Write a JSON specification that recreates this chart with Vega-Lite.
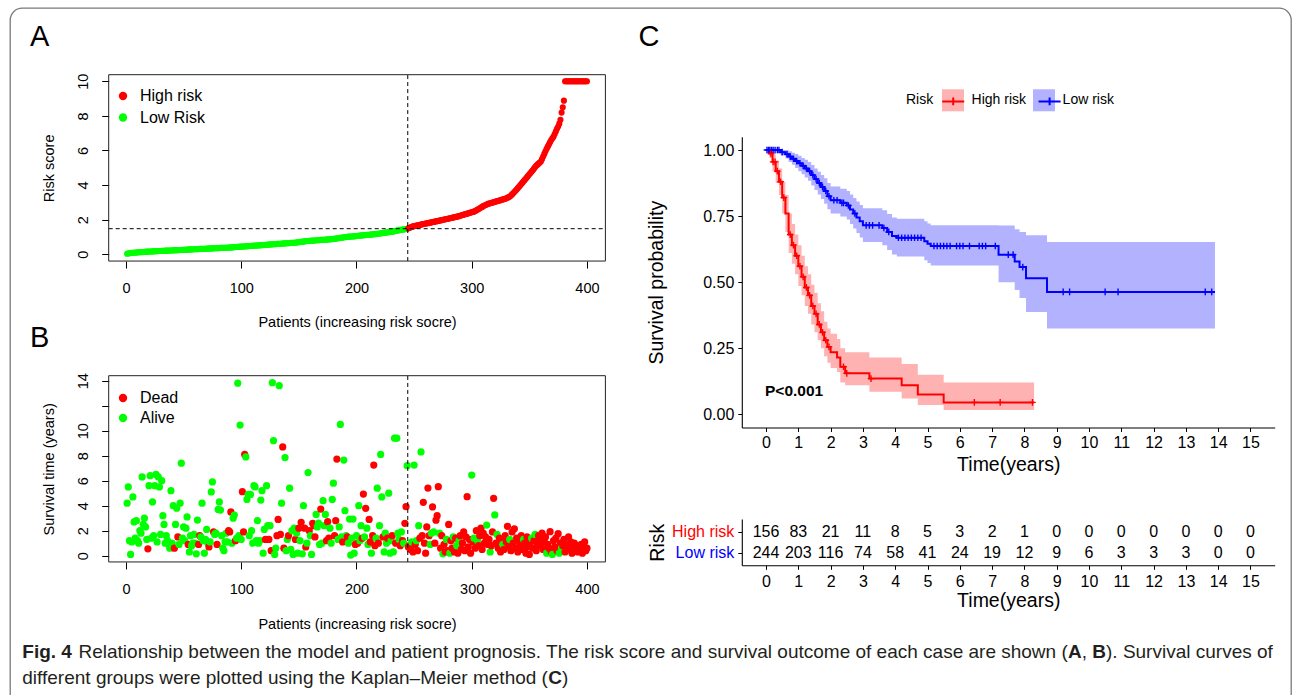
{
"$schema":"https://vega.github.io/schema/vega-lite/v6.json",
"width":1281,"height":700,
"autosize":{"type":"none"},
"padding":{"left":10,"top":8,"right":2,"bottom":0},
"background":"white",
"view":{"stroke":"#7a7a7a","strokeWidth":1.3,"cornerRadius":12,"fill":"white"},
"datasets":{
"pts":[
{"i":1,"r":0.03,"t":4.2,"s":"A","g":"L"},{"i":2,"r":0.05,"t":5.5,"s":"A","g":"L"},{"i":3,"r":0.06,"t":1.2,"s":"A","g":"L"},{"i":4,"r":0.07,"t":0.1,"s":"A","g":"L"},{"i":5,"r":0.08,"t":1.1,"s":"A","g":"L"},{"i":6,"r":0.09,"t":4.7,"s":"A","g":"L"},{"i":7,"r":0.09,"t":2.7,"s":"A","g":"L"},{"i":8,"r":0.10,"t":1.4,"s":"A","g":"L"},{"i":9,"r":0.10,"t":2.8,"s":"A","g":"L"},{"i":10,"r":0.11,"t":1.2,"s":"A","g":"L"},
{"i":11,"r":0.11,"t":1.0,"s":"A","g":"L"},{"i":12,"r":0.12,"t":2.0,"s":"A","g":"L"},{"i":13,"r":0.12,"t":1.8,"s":"A","g":"L"},{"i":14,"r":0.13,"t":6.3,"s":"A","g":"L"},{"i":15,"r":0.13,"t":2.5,"s":"A","g":"L"},{"i":16,"r":0.14,"t":3.0,"s":"A","g":"L"},{"i":17,"r":0.14,"t":2.3,"s":"A","g":"L"},{"i":18,"r":0.15,"t":1.3,"s":"A","g":"L"},{"i":19,"r":0.15,"t":0.55,"s":"D","g":"L"},{"i":20,"r":0.16,"t":5.6,"s":"A","g":"L"},
{"i":21,"r":0.16,"t":6.4,"s":"A","g":"L"},{"i":22,"r":0.16,"t":1.4,"s":"A","g":"L"},{"i":23,"r":0.17,"t":4.3,"s":"A","g":"L"},{"i":24,"r":0.17,"t":1.6,"s":"A","g":"L"},{"i":25,"r":0.18,"t":5.6,"s":"A","g":"L"},{"i":26,"r":0.18,"t":6.5,"s":"A","g":"L"},{"i":27,"r":0.18,"t":1.1,"s":"A","g":"L"},{"i":28,"r":0.19,"t":6.3,"s":"A","g":"L"},{"i":29,"r":0.19,"t":5.5,"s":"A","g":"L"},{"i":30,"r":0.19,"t":1.7,"s":"A","g":"L"},
{"i":31,"r":0.20,"t":6.0,"s":"A","g":"L"},{"i":32,"r":0.20,"t":3.2,"s":"A","g":"L"},{"i":33,"r":0.20,"t":2.5,"s":"A","g":"L"},{"i":34,"r":0.21,"t":1.0,"s":"A","g":"L"},{"i":35,"r":0.21,"t":1.6,"s":"A","g":"L"},{"i":36,"r":0.21,"t":1.2,"s":"A","g":"L"},{"i":37,"r":0.22,"t":0.9,"s":"A","g":"L"},{"i":38,"r":0.22,"t":0.6,"s":"A","g":"L"},{"i":39,"r":0.22,"t":5.2,"s":"A","g":"L"},{"i":40,"r":0.23,"t":1.0,"s":"A","g":"L"},
{"i":41,"r":0.23,"t":4.0,"s":"A","g":"L"},{"i":42,"r":0.23,"t":0.6,"s":"D","g":"L"},{"i":43,"r":0.24,"t":2.5,"s":"A","g":"L"},{"i":44,"r":0.24,"t":3.8,"s":"A","g":"L"},{"i":45,"r":0.24,"t":1.5,"s":"D","g":"L"},{"i":46,"r":0.25,"t":0.9,"s":"A","g":"L"},{"i":47,"r":0.25,"t":4.2,"s":"A","g":"L"},{"i":48,"r":0.25,"t":7.4,"s":"A","g":"L"},{"i":49,"r":0.26,"t":1.4,"s":"A","g":"L"},{"i":50,"r":0.26,"t":2.3,"s":"A","g":"L"},
{"i":51,"r":0.26,"t":1.2,"s":"A","g":"L"},{"i":52,"r":0.27,"t":2.2,"s":"A","g":"L"},{"i":53,"r":0.27,"t":3.1,"s":"A","g":"L"},{"i":54,"r":0.27,"t":0.9,"s":"D","g":"L"},{"i":55,"r":0.28,"t":0.3,"s":"A","g":"L"},{"i":56,"r":0.28,"t":1.6,"s":"A","g":"L"},{"i":57,"r":0.28,"t":0.8,"s":"A","g":"L"},{"i":58,"r":0.29,"t":1.0,"s":"A","g":"L"},{"i":59,"r":0.29,"t":1.7,"s":"A","g":"L"},{"i":60,"r":0.29,"t":1.0,"s":"A","g":"L"},
{"i":61,"r":0.30,"t":0.15,"s":"A","g":"L"},{"i":62,"r":0.30,"t":2.85,"s":"A","g":"L"},{"i":63,"r":0.30,"t":0.9,"s":"D","g":"L"},{"i":64,"r":0.31,"t":1.6,"s":"D","g":"L"},{"i":65,"r":0.31,"t":1.5,"s":"A","g":"L"},{"i":66,"r":0.31,"t":4.2,"s":"A","g":"L"},{"i":67,"r":0.32,"t":1.2,"s":"A","g":"L"},{"i":68,"r":0.32,"t":0.2,"s":"A","g":"L"},{"i":69,"r":0.32,"t":1.3,"s":"A","g":"L"},{"i":70,"r":0.33,"t":2.1,"s":"A","g":"L"},
{"i":71,"r":0.33,"t":1.0,"s":"A","g":"L"},{"i":72,"r":0.33,"t":0.7,"s":"D","g":"L"},{"i":73,"r":0.34,"t":1.1,"s":"A","g":"L"},{"i":74,"r":0.34,"t":5.1,"s":"A","g":"L"},{"i":75,"r":0.34,"t":5.9,"s":"A","g":"L"},{"i":76,"r":0.35,"t":1.9,"s":"D","g":"L"},{"i":77,"r":0.35,"t":1.7,"s":"A","g":"L"},{"i":78,"r":0.35,"t":1.8,"s":"A","g":"L"},{"i":79,"r":0.36,"t":0.9,"s":"D","g":"L"},{"i":80,"r":0.36,"t":3.7,"s":"A","g":"L"},
{"i":81,"r":0.36,"t":4.3,"s":"A","g":"L"},{"i":82,"r":0.37,"t":3.65,"s":"A","g":"L"},{"i":83,"r":0.37,"t":1.6,"s":"A","g":"L"},{"i":84,"r":0.37,"t":0.6,"s":"A","g":"L"},{"i":85,"r":0.38,"t":0.4,"s":"A","g":"L"},{"i":86,"r":0.38,"t":1.1,"s":"A","g":"L"},{"i":87,"r":0.38,"t":1.8,"s":"A","g":"L"},{"i":88,"r":0.39,"t":1.1,"s":"A","g":"L"},{"i":89,"r":0.39,"t":2.0,"s":"D","g":"L"},{"i":90,"r":0.39,"t":1.9,"s":"D","g":"L"},
{"i":91,"r":0.40,"t":3.5,"s":"D","g":"L"},{"i":92,"r":0.40,"t":1.0,"s":"A","g":"L"},{"i":93,"r":0.41,"t":3.0,"s":"A","g":"L"},{"i":94,"r":0.41,"t":3.25,"s":"A","g":"L"},{"i":95,"r":0.42,"t":1.2,"s":"D","g":"L"},{"i":96,"r":0.42,"t":1.4,"s":"A","g":"L"},{"i":97,"r":0.43,"t":13.8,"s":"A","g":"L"},{"i":98,"r":0.43,"t":1.6,"s":"A","g":"L"},{"i":99,"r":0.44,"t":10.45,"s":"A","g":"L"},{"i":100,"r":0.44,"t":1.3,"s":"A","g":"L"},
{"i":101,"r":0.45,"t":5.12,"s":"D","g":"L"},{"i":102,"r":0.45,"t":1.9,"s":"D","g":"L"},{"i":103,"r":0.46,"t":8.1,"s":"D","g":"L"},{"i":104,"r":0.46,"t":7.9,"s":"A","g":"L"},{"i":105,"r":0.47,"t":4.5,"s":"A","g":"L"},{"i":106,"r":0.47,"t":4.9,"s":"A","g":"L"},{"i":107,"r":0.48,"t":1.6,"s":"A","g":"L"},{"i":108,"r":0.48,"t":4.9,"s":"A","g":"L"},{"i":109,"r":0.49,"t":2.0,"s":"A","g":"L"},{"i":110,"r":0.49,"t":1.0,"s":"A","g":"L"},
{"i":111,"r":0.50,"t":5.6,"s":"A","g":"L"},{"i":112,"r":0.50,"t":5.5,"s":"A","g":"L"},{"i":113,"r":0.51,"t":1.2,"s":"A","g":"L"},{"i":114,"r":0.51,"t":2.8,"s":"A","g":"L"},{"i":115,"r":0.52,"t":1.0,"s":"A","g":"L"},{"i":116,"r":0.52,"t":1.2,"s":"A","g":"L"},{"i":117,"r":0.53,"t":4.45,"s":"A","g":"L"},{"i":118,"r":0.53,"t":5.2,"s":"A","g":"L"},{"i":119,"r":0.54,"t":0.2,"s":"A","g":"L"},{"i":120,"r":0.54,"t":2.1,"s":"A","g":"L"},
{"i":121,"r":0.55,"t":1.3,"s":"D","g":"L"},{"i":122,"r":0.55,"t":5.6,"s":"A","g":"L"},{"i":123,"r":0.56,"t":2.4,"s":"A","g":"L"},{"i":124,"r":0.56,"t":1.3,"s":"D","g":"L"},{"i":125,"r":0.57,"t":2.4,"s":"A","g":"L"},{"i":126,"r":0.57,"t":0.4,"s":"D","g":"L"},{"i":127,"r":0.58,"t":13.84,"s":"A","g":"L"},{"i":128,"r":0.58,"t":9.2,"s":"A","g":"L"},{"i":129,"r":0.59,"t":0.1,"s":"A","g":"L"},{"i":130,"r":0.59,"t":0.6,"s":"A","g":"L"},
{"i":131,"r":0.60,"t":1.6,"s":"D","g":"L"},{"i":132,"r":0.60,"t":2.9,"s":"D","g":"L"},{"i":133,"r":0.61,"t":13.6,"s":"A","g":"L"},{"i":134,"r":0.61,"t":1.7,"s":"D","g":"L"},{"i":135,"r":0.62,"t":4.2,"s":"A","g":"L"},{"i":136,"r":0.62,"t":8.7,"s":"D","g":"L"},{"i":137,"r":0.63,"t":0.6,"s":"D","g":"L"},{"i":138,"r":0.63,"t":7.85,"s":"A","g":"L"},{"i":139,"r":0.64,"t":0.4,"s":"A","g":"L"},{"i":140,"r":0.64,"t":1.3,"s":"A","g":"L"},
{"i":141,"r":0.65,"t":1.6,"s":"D","g":"L"},{"i":142,"r":0.65,"t":5.4,"s":"A","g":"L"},{"i":143,"r":0.66,"t":0.5,"s":"A","g":"L"},{"i":144,"r":0.66,"t":2.0,"s":"A","g":"L"},{"i":145,"r":0.67,"t":0.1,"s":"A","g":"L"},{"i":146,"r":0.67,"t":2.2,"s":"A","g":"L"},{"i":147,"r":0.68,"t":1.3,"s":"D","g":"L"},{"i":148,"r":0.68,"t":1.8,"s":"A","g":"L"},{"i":149,"r":0.69,"t":0.2,"s":"A","g":"L"},{"i":150,"r":0.70,"t":2.2,"s":"D","g":"L"},
{"i":151,"r":0.71,"t":1.2,"s":"A","g":"L"},{"i":152,"r":0.72,"t":2.67,"s":"D","g":"L"},{"i":153,"r":0.73,"t":0.15,"s":"A","g":"L"},{"i":154,"r":0.74,"t":4.0,"s":"A","g":"L"},{"i":155,"r":0.75,"t":2.2,"s":"D","g":"L"},{"i":156,"r":0.76,"t":0.7,"s":"D","g":"L"},{"i":157,"r":0.77,"t":1.0,"s":"A","g":"L"},{"i":158,"r":0.77,"t":6.65,"s":"A","g":"L"},{"i":159,"r":0.78,"t":2.0,"s":"D","g":"L"},{"i":160,"r":0.78,"t":1.6,"s":"A","g":"L"},
{"i":161,"r":0.79,"t":0.1,"s":"A","g":"L"},{"i":162,"r":0.79,"t":2.59,"s":"D","g":"L"},{"i":163,"r":0.80,"t":2.4,"s":"D","g":"L"},{"i":164,"r":0.80,"t":1.5,"s":"D","g":"L"},{"i":165,"r":0.81,"t":3.3,"s":"A","g":"L"},{"i":166,"r":0.81,"t":2.3,"s":"A","g":"L"},{"i":167,"r":0.82,"t":2.6,"s":"A","g":"L"},{"i":168,"r":0.82,"t":0.9,"s":"A","g":"L"},{"i":169,"r":0.83,"t":3.73,"s":"D","g":"L"},{"i":170,"r":0.83,"t":1.0,"s":"A","g":"L"},
{"i":171,"r":0.84,"t":4.4,"s":"A","g":"L"},{"i":172,"r":0.84,"t":2.4,"s":"A","g":"L"},{"i":173,"r":0.85,"t":3.3,"s":"A","g":"L"},{"i":174,"r":0.85,"t":1.2,"s":"D","g":"L"},{"i":175,"r":0.86,"t":2.72,"s":"D","g":"L"},{"i":176,"r":0.86,"t":1.4,"s":"D","g":"L"},{"i":177,"r":0.87,"t":2.2,"s":"A","g":"L"},{"i":178,"r":0.87,"t":1.0,"s":"A","g":"L"},{"i":179,"r":0.88,"t":4.5,"s":"A","g":"L"},{"i":180,"r":0.89,"t":5.8,"s":"A","g":"L"},
{"i":181,"r":0.90,"t":1.6,"s":"D","g":"L"},{"i":182,"r":0.91,"t":2.8,"s":"D","g":"L"},{"i":183,"r":0.92,"t":7.73,"s":"D","g":"L"},{"i":184,"r":0.93,"t":1.3,"s":"A","g":"L"},{"i":185,"r":0.94,"t":2.3,"s":"A","g":"L"},{"i":186,"r":0.95,"t":10.5,"s":"A","g":"L"},{"i":187,"r":0.96,"t":1.5,"s":"A","g":"L"},{"i":188,"r":0.97,"t":1.1,"s":"D","g":"L"},{"i":189,"r":0.98,"t":7.65,"s":"A","g":"L"},{"i":190,"r":0.99,"t":3.6,"s":"A","g":"L"},
{"i":191,"r":1.00,"t":1.6,"s":"A","g":"L"},{"i":192,"r":1.01,"t":1.5,"s":"D","g":"L"},{"i":193,"r":1.02,"t":1.0,"s":"A","g":"L"},{"i":194,"r":1.02,"t":2.93,"s":"A","g":"L"},{"i":195,"r":1.03,"t":0.05,"s":"A","g":"L"},{"i":196,"r":1.03,"t":1.4,"s":"A","g":"L"},{"i":197,"r":1.04,"t":2.93,"s":"A","g":"L"},{"i":198,"r":1.04,"t":0.2,"s":"A","g":"L"},{"i":199,"r":1.05,"t":0.9,"s":"D","g":"L"},{"i":200,"r":1.06,"t":1.6,"s":"A","g":"L"},
{"i":201,"r":1.07,"t":1.0,"s":"D","g":"L"},{"i":202,"r":1.07,"t":4.0,"s":"A","g":"L"},{"i":203,"r":1.08,"t":1.2,"s":"A","g":"L"},{"i":204,"r":1.09,"t":2.4,"s":"A","g":"L"},{"i":205,"r":1.09,"t":1.4,"s":"D","g":"L"},{"i":206,"r":1.10,"t":4.93,"s":"D","g":"L"},{"i":207,"r":1.11,"t":1.5,"s":"A","g":"L"},{"i":208,"r":1.11,"t":3.79,"s":"D","g":"L"},{"i":209,"r":1.12,"t":2.2,"s":"A","g":"L"},{"i":210,"r":1.13,"t":0.9,"s":"A","g":"L"},
{"i":211,"r":1.13,"t":2.9,"s":"D","g":"L"},{"i":212,"r":1.14,"t":1.1,"s":"D","g":"L"},{"i":213,"r":1.15,"t":0.2,"s":"A","g":"L"},{"i":214,"r":1.15,"t":1.6,"s":"D","g":"L"},{"i":215,"r":1.16,"t":7.25,"s":"D","g":"L"},{"i":216,"r":1.17,"t":0.8,"s":"D","g":"L"},{"i":217,"r":1.17,"t":1.4,"s":"A","g":"L"},{"i":218,"r":1.18,"t":5.4,"s":"A","g":"L"},{"i":219,"r":1.19,"t":1.0,"s":"D","g":"L"},{"i":220,"r":1.20,"t":2.4,"s":"A","g":"L"},
{"i":221,"r":1.21,"t":8.1,"s":"A","g":"L"},{"i":222,"r":1.22,"t":4.7,"s":"A","g":"L"},{"i":223,"r":1.23,"t":1.5,"s":"D","g":"L"},{"i":224,"r":1.24,"t":0.3,"s":"A","g":"L"},{"i":225,"r":1.25,"t":1.8,"s":"A","g":"L"},{"i":226,"r":1.26,"t":1.0,"s":"A","g":"L"},{"i":227,"r":1.27,"t":1.4,"s":"D","g":"L"},{"i":228,"r":1.28,"t":5.0,"s":"A","g":"L"},{"i":229,"r":1.29,"t":0.2,"s":"A","g":"L"},{"i":230,"r":1.30,"t":1.2,"s":"A","g":"L"},
{"i":231,"r":1.31,"t":1.6,"s":"D","g":"L"},{"i":232,"r":1.32,"t":0.3,"s":"A","g":"L"},{"i":233,"r":1.33,"t":9.4,"s":"A","g":"L"},{"i":234,"r":1.35,"t":1.0,"s":"D","g":"L"},{"i":235,"r":1.36,"t":9.4,"s":"A","g":"L"},{"i":236,"r":1.38,"t":1.8,"s":"A","g":"L"},{"i":237,"r":1.39,"t":1.3,"s":"A","g":"L"},{"i":238,"r":1.41,"t":0.8,"s":"D","g":"L"},{"i":239,"r":1.42,"t":1.9,"s":"A","g":"L"},{"i":240,"r":1.43,"t":1.2,"s":"D","g":"L"},
{"i":241,"r":1.44,"t":1.0,"s":"A","g":"L"},{"i":242,"r":1.45,"t":2.59,"s":"D","g":"L"},{"i":243,"r":1.46,"t":3.92,"s":"D","g":"L"},{"i":244,"r":1.47,"t":7.2,"s":"A","g":"L"},{"i":245,"r":1.50,"t":0.7,"s":"D","g":"H"},{"i":246,"r":1.53,"t":0.8,"s":"D","g":"H"},{"i":247,"r":1.56,"t":0.5,"s":"D","g":"H"},{"i":248,"r":1.59,"t":1.1,"s":"A","g":"H"},{"i":249,"r":1.61,"t":0.3,"s":"D","g":"H"},{"i":250,"r":1.63,"t":7.25,"s":"A","g":"H"},
{"i":251,"r":1.65,"t":0.9,"s":"D","g":"H"},{"i":252,"r":1.66,"t":1.2,"s":"A","g":"H"},{"i":253,"r":1.68,"t":0.4,"s":"D","g":"H"},{"i":254,"r":1.69,"t":2.4,"s":"A","g":"H"},{"i":255,"r":1.70,"t":1.4,"s":"D","g":"H"},{"i":256,"r":1.72,"t":8.3,"s":"A","g":"H"},{"i":257,"r":1.73,"t":1.6,"s":"D","g":"H"},{"i":258,"r":1.75,"t":4.27,"s":"D","g":"H"},{"i":259,"r":1.76,"t":1.0,"s":"D","g":"H"},{"i":260,"r":1.78,"t":0.2,"s":"D","g":"H"},
{"i":261,"r":1.79,"t":2.3,"s":"D","g":"H"},{"i":262,"r":1.80,"t":5.41,"s":"D","g":"H"},{"i":263,"r":1.82,"t":1.6,"s":"D","g":"H"},{"i":264,"r":1.83,"t":0.9,"s":"A","g":"H"},{"i":265,"r":1.85,"t":1.8,"s":"A","g":"H"},{"i":266,"r":1.86,"t":3.9,"s":"D","g":"H"},{"i":267,"r":1.87,"t":1.9,"s":"A","g":"H"},{"i":268,"r":1.89,"t":1.0,"s":"D","g":"H"},{"i":269,"r":1.90,"t":2.84,"s":"D","g":"H"},{"i":270,"r":1.92,"t":3.2,"s":"D","g":"H"},
{"i":271,"r":1.93,"t":5.52,"s":"D","g":"H"},{"i":272,"r":1.95,"t":1.8,"s":"A","g":"H"},{"i":273,"r":1.96,"t":0.6,"s":"D","g":"H"},{"i":274,"r":1.98,"t":1.6,"s":"D","g":"H"},{"i":275,"r":1.99,"t":0.15,"s":"A","g":"H"},{"i":276,"r":2.01,"t":0.9,"s":"D","g":"H"},{"i":277,"r":2.02,"t":0.3,"s":"D","g":"H"},{"i":278,"r":2.04,"t":1.3,"s":"A","g":"H"},{"i":279,"r":2.05,"t":0.4,"s":"D","g":"H"},{"i":280,"r":2.07,"t":2.5,"s":"D","g":"H"},
{"i":281,"r":2.08,"t":0.2,"s":"A","g":"H"},{"i":282,"r":2.10,"t":1.2,"s":"D","g":"H"},{"i":283,"r":2.11,"t":0.6,"s":"D","g":"H"},{"i":284,"r":2.13,"t":1.5,"s":"A","g":"H"},{"i":285,"r":2.14,"t":0.3,"s":"D","g":"H"},{"i":286,"r":2.16,"t":1.4,"s":"D","g":"H"},{"i":287,"r":2.17,"t":0.8,"s":"A","g":"H"},{"i":288,"r":2.19,"t":0.2,"s":"D","g":"H"},{"i":289,"r":2.21,"t":1.2,"s":"A","g":"H"},{"i":290,"r":2.23,"t":1.6,"s":"D","g":"H"},
{"i":291,"r":2.25,"t":0.5,"s":"D","g":"H"},{"i":292,"r":2.27,"t":1.0,"s":"D","g":"H"},{"i":293,"r":2.29,"t":1.9,"s":"D","g":"H"},{"i":294,"r":2.31,"t":0.4,"s":"D","g":"H"},{"i":295,"r":2.33,"t":1.5,"s":"D","g":"H"},{"i":296,"r":2.35,"t":4.72,"s":"D","g":"H"},{"i":297,"r":2.37,"t":0.7,"s":"D","g":"H"},{"i":298,"r":2.39,"t":1.3,"s":"D","g":"H"},{"i":299,"r":2.41,"t":0.2,"s":"D","g":"H"},{"i":300,"r":2.43,"t":6.45,"s":"A","g":"H"},
{"i":301,"r":2.45,"t":1.1,"s":"D","g":"H"},{"i":302,"r":2.47,"t":1.4,"s":"A","g":"H"},{"i":303,"r":2.50,"t":0.6,"s":"D","g":"H"},{"i":304,"r":2.54,"t":2.0,"s":"D","g":"H"},{"i":305,"r":2.58,"t":1.2,"s":"A","g":"H"},{"i":306,"r":2.62,"t":0.8,"s":"D","g":"H"},{"i":307,"r":2.66,"t":1.6,"s":"D","g":"H"},{"i":308,"r":2.70,"t":2.2,"s":"D","g":"H"},{"i":309,"r":2.74,"t":0.5,"s":"D","g":"H"},{"i":310,"r":2.78,"t":1.8,"s":"D","g":"H"},
{"i":311,"r":2.82,"t":1.0,"s":"D","g":"H"},{"i":312,"r":2.85,"t":1.5,"s":"D","g":"H"},{"i":313,"r":2.88,"t":2.45,"s":"A","g":"H"},{"i":314,"r":2.91,"t":0.9,"s":"D","g":"H"},{"i":315,"r":2.93,"t":1.3,"s":"D","g":"H"},{"i":316,"r":2.95,"t":0.3,"s":"A","g":"H"},{"i":317,"r":2.97,"t":0.8,"s":"D","g":"H"},{"i":318,"r":2.99,"t":1.9,"s":"D","g":"H"},{"i":319,"r":3.01,"t":4.59,"s":"D","g":"H"},{"i":320,"r":3.03,"t":3.26,"s":"A","g":"H"},
{"i":321,"r":3.05,"t":1.0,"s":"D","g":"H"},{"i":322,"r":3.07,"t":1.7,"s":"A","g":"H"},{"i":323,"r":3.09,"t":0.6,"s":"D","g":"H"},{"i":324,"r":3.11,"t":1.4,"s":"D","g":"H"},{"i":325,"r":3.13,"t":0.3,"s":"D","g":"H"},{"i":326,"r":3.15,"t":1.2,"s":"D","g":"H"},{"i":327,"r":3.17,"t":0.9,"s":"A","g":"H"},{"i":328,"r":3.19,"t":0.5,"s":"D","g":"H"},{"i":329,"r":3.21,"t":1.6,"s":"D","g":"H"},{"i":330,"r":3.24,"t":1.1,"s":"D","g":"H"},
{"i":331,"r":3.27,"t":2.35,"s":"D","g":"H"},{"i":332,"r":3.30,"t":0.7,"s":"D","g":"H"},{"i":333,"r":3.34,"t":1.3,"s":"A","g":"H"},{"i":334,"r":3.40,"t":0.4,"s":"D","g":"H"},{"i":335,"r":3.46,"t":1.9,"s":"D","g":"H"},{"i":336,"r":3.53,"t":1.0,"s":"D","g":"H"},{"i":337,"r":3.60,"t":2.15,"s":"D","g":"H"},{"i":338,"r":3.67,"t":0.6,"s":"D","g":"H"},{"i":339,"r":3.74,"t":1.4,"s":"D","g":"H"},{"i":340,"r":3.82,"t":0.3,"s":"D","g":"H"},
{"i":341,"r":3.90,"t":1.2,"s":"D","g":"H"},{"i":342,"r":3.98,"t":0.8,"s":"D","g":"H"},{"i":343,"r":4.06,"t":1.6,"s":"D","g":"H"},{"i":344,"r":4.14,"t":0.5,"s":"D","g":"H"},{"i":345,"r":4.22,"t":1.3,"s":"A","g":"H"},{"i":346,"r":4.30,"t":1.0,"s":"D","g":"H"},{"i":347,"r":4.38,"t":0.2,"s":"D","g":"H"},{"i":348,"r":4.46,"t":1.5,"s":"D","g":"H"},{"i":349,"r":4.54,"t":0.7,"s":"D","g":"H"},{"i":350,"r":4.62,"t":0.1,"s":"D","g":"H"},
{"i":351,"r":4.70,"t":1.1,"s":"D","g":"H"},{"i":352,"r":4.78,"t":1.4,"s":"A","g":"H"},{"i":353,"r":4.86,"t":0.6,"s":"D","g":"H"},{"i":354,"r":4.95,"t":1.2,"s":"D","g":"H"},{"i":355,"r":5.04,"t":1.7,"s":"A","g":"H"},{"i":356,"r":5.12,"t":0.4,"s":"D","g":"H"},{"i":357,"r":5.18,"t":0.9,"s":"D","g":"H"},{"i":358,"r":5.24,"t":1.6,"s":"D","g":"H"},{"i":359,"r":5.30,"t":1.3,"s":"D","g":"H"},{"i":360,"r":5.36,"t":0.8,"s":"D","g":"H"},
{"i":361,"r":5.50,"t":1.8,"s":"D","g":"H"},{"i":362,"r":5.65,"t":0.5,"s":"D","g":"H"},{"i":363,"r":5.80,"t":1.1,"s":"D","g":"H"},{"i":364,"r":5.95,"t":1.5,"s":"D","g":"H"},{"i":365,"r":6.10,"t":0.2,"s":"A","g":"H"},{"i":366,"r":6.22,"t":0.9,"s":"D","g":"H"},{"i":367,"r":6.35,"t":0.6,"s":"D","g":"H"},{"i":368,"r":6.48,"t":1.92,"s":"D","g":"H"},{"i":369,"r":6.60,"t":0.3,"s":"D","g":"H"},{"i":370,"r":6.70,"t":0.1,"s":"A","g":"H"},
{"i":371,"r":6.80,"t":1.2,"s":"D","g":"H"},{"i":372,"r":6.95,"t":0.7,"s":"D","g":"H"},{"i":373,"r":7.10,"t":1.4,"s":"D","g":"H"},{"i":374,"r":7.25,"t":0.4,"s":"D","g":"H"},{"i":375,"r":7.38,"t":1.76,"s":"D","g":"H"},{"i":376,"r":7.55,"t":0.2,"s":"A","g":"H"},{"i":377,"r":7.77,"t":1.0,"s":"D","g":"H"},{"i":378,"r":8.19,"t":0.6,"s":"A","g":"H"},{"i":379,"r":8.50,"t":0.8,"s":"D","g":"H"},{"i":380,"r":8.88,"t":1.3,"s":"D","g":"H"},
{"i":381,"r":10,"t":0.3,"s":"D","g":"H"},{"i":382,"r":10,"t":0.9,"s":"D","g":"H"},{"i":383,"r":10,"t":0.5,"s":"D","g":"H"},{"i":384,"r":10,"t":1.5,"s":"D","g":"H"},{"i":385,"r":10,"t":0.7,"s":"D","g":"H"},{"i":386,"r":10,"t":1.1,"s":"D","g":"H"},{"i":387,"r":10,"t":0.2,"s":"D","g":"H"},{"i":388,"r":10,"t":0.6,"s":"D","g":"H"},{"i":389,"r":10,"t":1.0,"s":"D","g":"H"},{"i":390,"r":10,"t":0.4,"s":"D","g":"H"},
{"i":391,"r":10,"t":0.8,"s":"D","g":"H"},{"i":392,"r":10,"t":0.3,"s":"D","g":"H"},{"i":393,"r":10,"t":0.7,"s":"D","g":"H"},{"i":394,"r":10,"t":0.5,"s":"D","g":"H"},{"i":395,"r":10,"t":0.9,"s":"D","g":"H"},{"i":396,"r":10,"t":0.2,"s":"D","g":"H"},{"i":397,"r":10,"t":0.6,"s":"D","g":"H"},{"i":398,"r":10,"t":1.1,"s":"D","g":"H"},{"i":399,"r":10,"t":0.4,"s":"D","g":"H"},{"i":400,"r":10,"t":0.6,"s":"D","g":"H"}
],
"km":[
{"g":"Low risk","t":0,"s":1,"lo":1,"hi":1},{"g":"Low risk","t":0.45,"s":0.992,"lo":0.98,"hi":1},{"g":"Low risk","t":0.6,"s":0.984,"lo":0.968,"hi":1},{"g":"Low risk","t":0.7,"s":0.975,"lo":0.955,"hi":0.995},{"g":"Low risk","t":0.8,"s":0.967,"lo":0.944,"hi":0.99},{"g":"Low risk","t":0.9,"s":0.958,"lo":0.932,"hi":0.985},{"g":"Low risk","t":1.0,"s":0.95,"lo":0.92,"hi":0.978},{"g":"Low risk","t":1.1,"s":0.94,"lo":0.908,"hi":0.97},{"g":"Low risk","t":1.2,"s":0.93,"lo":0.896,"hi":0.963},{"g":"Low risk","t":1.3,"s":0.92,"lo":0.884,"hi":0.955},{"g":"Low risk","t":1.4,"s":0.905,"lo":0.866,"hi":0.943},{"g":"Low risk","t":1.5,"s":0.89,"lo":0.849,"hi":0.93},{"g":"Low risk","t":1.6,"s":0.875,"lo":0.832,"hi":0.918},{"g":"Low risk","t":1.7,"s":0.86,"lo":0.815,"hi":0.905},{"g":"Low risk","t":1.8,"s":0.845,"lo":0.797,"hi":0.893},{"g":"Low risk","t":1.9,"s":0.825,"lo":0.776,"hi":0.875},{"g":"Low risk","t":2.0,"s":0.81,"lo":0.76,"hi":0.862},{"g":"Low risk","t":2.3,"s":0.8,"lo":0.748,"hi":0.853},{"g":"Low risk","t":2.5,"s":0.79,"lo":0.737,"hi":0.845},{"g":"Low risk","t":2.6,"s":0.775,"lo":0.72,"hi":0.832},{"g":"Low risk","t":2.7,"s":0.76,"lo":0.703,"hi":0.818},{"g":"Low risk","t":2.8,"s":0.745,"lo":0.686,"hi":0.805},{"g":"Low risk","t":2.9,"s":0.73,"lo":0.669,"hi":0.792},{"g":"Low risk","t":3.0,"s":0.715,"lo":0.652,"hi":0.78},{"g":"Low risk","t":3.6,"s":0.705,"lo":0.64,"hi":0.772},{"g":"Low risk","t":3.75,"s":0.69,"lo":0.622,"hi":0.758},{"g":"Low risk","t":3.9,"s":0.675,"lo":0.605,"hi":0.745},{"g":"Low risk","t":4.05,"s":0.668,"lo":0.597,"hi":0.74},{"g":"Low risk","t":4.9,"s":0.655,"lo":0.583,"hi":0.73},{"g":"Low risk","t":5.0,"s":0.645,"lo":0.572,"hi":0.722},{"g":"Low risk","t":5.1,"s":0.637,"lo":0.563,"hi":0.715},{"g":"Low risk","t":7.2,"s":0.604,"lo":0.5,"hi":0.714},{"g":"Low risk","t":7.7,"s":0.578,"lo":0.47,"hi":0.7},{"g":"Low risk","t":7.85,"s":0.557,"lo":0.44,"hi":0.69},{"g":"Low risk","t":8.05,"s":0.515,"lo":0.387,"hi":0.677},{"g":"Low risk","t":8.7,"s":0.463,"lo":0.325,"hi":0.652},{"g":"Low risk","t":13.9,"s":0.463,"lo":0.325,"hi":0.652},
{"g":"High risk","t":0,"s":1,"lo":1,"hi":1},{"g":"High risk","t":0.1,"s":0.987,"lo":0.97,"hi":1},{"g":"High risk","t":0.2,"s":0.955,"lo":0.92,"hi":0.99},{"g":"High risk","t":0.3,"s":0.92,"lo":0.875,"hi":0.96},{"g":"High risk","t":0.4,"s":0.88,"lo":0.83,"hi":0.93},{"g":"High risk","t":0.5,"s":0.82,"lo":0.76,"hi":0.88},{"g":"High risk","t":0.6,"s":0.76,"lo":0.69,"hi":0.83},{"g":"High risk","t":0.7,"s":0.68,"lo":0.61,"hi":0.76},{"g":"High risk","t":0.8,"s":0.64,"lo":0.57,"hi":0.72},{"g":"High risk","t":0.9,"s":0.6,"lo":0.53,"hi":0.68},{"g":"High risk","t":1.0,"s":0.56,"lo":0.485,"hi":0.64},{"g":"High risk","t":1.1,"s":0.52,"lo":0.45,"hi":0.6},{"g":"High risk","t":1.2,"s":0.48,"lo":0.41,"hi":0.56},{"g":"High risk","t":1.3,"s":0.45,"lo":0.38,"hi":0.53},{"g":"High risk","t":1.4,"s":0.41,"lo":0.34,"hi":0.49},{"g":"High risk","t":1.5,"s":0.38,"lo":0.31,"hi":0.46},{"g":"High risk","t":1.6,"s":0.34,"lo":0.28,"hi":0.42},{"g":"High risk","t":1.7,"s":0.31,"lo":0.25,"hi":0.39},{"g":"High risk","t":1.8,"s":0.28,"lo":0.22,"hi":0.35},{"g":"High risk","t":1.9,"s":0.255,"lo":0.195,"hi":0.325},{"g":"High risk","t":2.0,"s":0.235,"lo":0.175,"hi":0.305},{"g":"High risk","t":2.2,"s":0.215,"lo":0.16,"hi":0.285},{"g":"High risk","t":2.3,"s":0.18,"lo":0.12,"hi":0.25},{"g":"High risk","t":2.45,"s":0.155,"lo":0.11,"hi":0.235},{"g":"High risk","t":3.2,"s":0.135,"lo":0.085,"hi":0.215},{"g":"High risk","t":4.2,"s":0.11,"lo":0.06,"hi":0.19},{"g":"High risk","t":4.7,"s":0.075,"lo":0.035,"hi":0.15},{"g":"High risk","t":5.5,"s":0.045,"lo":0.016,"hi":0.12},{"g":"High risk","t":8.3,"s":0.045,"lo":0.016,"hi":0.12}
],
"cens":[
{"g":"Low risk","t":0.03,"s":1},{"g":"Low risk","t":0.08,"s":1},{"g":"Low risk","t":0.12,"s":1},{"g":"Low risk","t":0.17,"s":1},{"g":"Low risk","t":0.22,"s":1},{"g":"Low risk","t":0.28,"s":1},{"g":"Low risk","t":0.35,"s":1},{"g":"Low risk","t":0.4,"s":1},{"g":"Low risk","t":0.5,"s":0.992},{"g":"Low risk","t":0.65,"s":0.984},{"g":"Low risk","t":0.75,"s":0.975},{"g":"Low risk","t":0.85,"s":0.967},{"g":"Low risk","t":0.95,"s":0.958},{"g":"Low risk","t":1.05,"s":0.95},{"g":"Low risk","t":1.15,"s":0.94},{"g":"Low risk","t":1.25,"s":0.93},{"g":"Low risk","t":1.35,"s":0.92},{"g":"Low risk","t":1.45,"s":0.905},{"g":"Low risk","t":1.55,"s":0.89},{"g":"Low risk","t":1.65,"s":0.875},{"g":"Low risk","t":1.75,"s":0.86},{"g":"Low risk","t":1.85,"s":0.845},{"g":"Low risk","t":1.95,"s":0.825},{"g":"Low risk","t":2.1,"s":0.81},{"g":"Low risk","t":2.2,"s":0.81},{"g":"Low risk","t":2.35,"s":0.8},{"g":"Low risk","t":2.4,"s":0.8},{"g":"Low risk","t":2.55,"s":0.79},{"g":"Low risk","t":2.75,"s":0.76},{"g":"Low risk","t":3.1,"s":0.715},{"g":"Low risk","t":3.2,"s":0.715},{"g":"Low risk","t":3.3,"s":0.715},{"g":"Low risk","t":3.5,"s":0.715},{"g":"Low risk","t":3.65,"s":0.705},{"g":"Low risk","t":3.8,"s":0.69},{"g":"Low risk","t":4.1,"s":0.668},{"g":"Low risk","t":4.2,"s":0.668},{"g":"Low risk","t":4.3,"s":0.668},{"g":"Low risk","t":4.4,"s":0.668},{"g":"Low risk","t":4.5,"s":0.668},{"g":"Low risk","t":4.6,"s":0.668},{"g":"Low risk","t":4.7,"s":0.668},{"g":"Low risk","t":4.8,"s":0.668},{"g":"Low risk","t":5.2,"s":0.637},{"g":"Low risk","t":5.3,"s":0.637},{"g":"Low risk","t":5.4,"s":0.637},{"g":"Low risk","t":5.5,"s":0.637},{"g":"Low risk","t":5.6,"s":0.637},{"g":"Low risk","t":5.7,"s":0.637},{"g":"Low risk","t":5.9,"s":0.637},{"g":"Low risk","t":6.0,"s":0.637},{"g":"Low risk","t":6.1,"s":0.637},{"g":"Low risk","t":6.3,"s":0.637},{"g":"Low risk","t":6.6,"s":0.637},{"g":"Low risk","t":6.7,"s":0.637},{"g":"Low risk","t":6.8,"s":0.637},{"g":"Low risk","t":7.1,"s":0.637},{"g":"Low risk","t":7.5,"s":0.604},{"g":"Low risk","t":7.65,"s":0.604},{"g":"Low risk","t":7.95,"s":0.557},{"g":"Low risk","t":9.2,"s":0.463},{"g":"Low risk","t":9.4,"s":0.463},{"g":"Low risk","t":10.5,"s":0.463},{"g":"Low risk","t":10.9,"s":0.463},{"g":"Low risk","t":13.6,"s":0.463},{"g":"Low risk","t":13.8,"s":0.463},
{"g":"High risk","t":0.15,"s":0.987},{"g":"High risk","t":0.22,"s":0.955},{"g":"High risk","t":0.28,"s":0.955},{"g":"High risk","t":0.35,"s":0.92},{"g":"High risk","t":0.45,"s":0.88},{"g":"High risk","t":0.55,"s":0.82},{"g":"High risk","t":0.75,"s":0.68},{"g":"High risk","t":0.85,"s":0.64},{"g":"High risk","t":0.95,"s":0.6},{"g":"High risk","t":1.05,"s":0.56},{"g":"High risk","t":1.15,"s":0.52},{"g":"High risk","t":1.25,"s":0.48},{"g":"High risk","t":1.35,"s":0.45},{"g":"High risk","t":1.45,"s":0.41},{"g":"High risk","t":1.55,"s":0.38},{"g":"High risk","t":1.65,"s":0.34},{"g":"High risk","t":1.75,"s":0.31},{"g":"High risk","t":1.85,"s":0.28},{"g":"High risk","t":1.95,"s":0.255},{"g":"High risk","t":2.4,"s":0.18},{"g":"High risk","t":2.5,"s":0.155},{"g":"High risk","t":3.25,"s":0.135},{"g":"High risk","t":6.45,"s":0.045},{"g":"High risk","t":7.25,"s":0.045},{"g":"High risk","t":8.25,"s":0.045}
],
"tbl":[
{"g":"High risk","t":0,"n":156},{"g":"High risk","t":1,"n":83},{"g":"High risk","t":2,"n":21},{"g":"High risk","t":3,"n":11},{"g":"High risk","t":4,"n":8},{"g":"High risk","t":5,"n":5},{"g":"High risk","t":6,"n":3},{"g":"High risk","t":7,"n":2},{"g":"High risk","t":8,"n":1},{"g":"High risk","t":9,"n":0},{"g":"High risk","t":10,"n":0},{"g":"High risk","t":11,"n":0},{"g":"High risk","t":12,"n":0},{"g":"High risk","t":13,"n":0},{"g":"High risk","t":14,"n":0},{"g":"High risk","t":15,"n":0},
{"g":"Low risk","t":0,"n":244},{"g":"Low risk","t":1,"n":203},{"g":"Low risk","t":2,"n":116},{"g":"Low risk","t":3,"n":74},{"g":"Low risk","t":4,"n":58},{"g":"Low risk","t":5,"n":41},{"g":"Low risk","t":6,"n":24},{"g":"Low risk","t":7,"n":19},{"g":"Low risk","t":8,"n":12},{"g":"Low risk","t":9,"n":9},{"g":"Low risk","t":10,"n":6},{"g":"Low risk","t":11,"n":3},{"g":"Low risk","t":12,"n":3},{"g":"Low risk","t":13,"n":3},{"g":"Low risk","t":14,"n":0},{"g":"Low risk","t":15,"n":0}
],
"letters":[{"p":"A","col":"L","row":"T"},{"p":"B","col":"L","row":"M"},{"p":"C","col":"R","row":"T"}]
},
"layer":[
{"layer":[
 {"data":{"name":"pts"},"mark":{"type":"circle","size":38,"opacity":1},
  "encoding":{
   "x":{"field":"i","type":"quantitative","scale":{"domain":[-15,416],"range":[98.7,595.4],"nice":false,"zero":false},
        "axis":{"orient":"bottom","offset":-446.95,"values":[0,100,200,300,400],"format":"d","domain":false,"tickSize":7,"labelFontSize":14.5,"labelBaseline":"middle","labelPadding":20.5,"title":"Patients (increasing risk socre)","titleFontSize":14.5,"titleBaseline":"middle","titleY":61.5}},
   "y":{"field":"r","type":"quantitative","scale":{"domain":[-0.39,10.38],"range":[253.05,66.7],"nice":false,"zero":false},
        "axis":{"orient":"left","offset":-98.7,"values":[0,2,4,6,8,10],"format":"d","domain":false,"tickSize":7,"labelFontSize":14.5,"labelAngle":270,"labelAlign":"center","labelBaseline":"middle","labelPadding":18,"title":"Risk score","titleFontSize":14.5,"titleAngle":270,"titleBaseline":"middle","titleX":-59.2}},
   "color":{"field":"g","type":"nominal","scale":{"domain":["H","L"],"range":["#FF0000","#00FF00"]},
        "legend":{"orient":"none","legendX":105,"legendY":80,"title":null,"labelFontSize":16,"symbolSize":70,"symbolType":"circle","symbolStrokeWidth":0,"labelOffset":9,"rowPadding":5.5,"padding":0,"labelExpr":"datum.label == 'H' ? 'High risk' : 'Low Risk'"}}
  }},
 {"data":{"values":[{}]},"mark":{"type":"rule","strokeDash":[4,3],"color":"#000","strokeWidth":1},
  "encoding":{"x":{"datum":-15},"x2":{"datum":416},"y":{"datum":1.48}}},
 {"data":{"values":[{}]},"mark":{"type":"rule","strokeDash":[4,3],"color":"#000","strokeWidth":1},
  "encoding":{"x":{"datum":244.5},"y":{"datum":-0.39},"y2":{"datum":10.38}}},
 {"data":{"values":[{}]},"mark":{"type":"rect","filled":false,"stroke":"#222","strokeWidth":1},
  "encoding":{"x":{"datum":-15},"x2":{"datum":416},"y":{"datum":-0.39},"y2":{"datum":10.38}}}
]},
{"layer":[
 {"data":{"name":"pts"},"mark":{"type":"circle","size":52,"opacity":1},
  "encoding":{
   "x":{"field":"i","type":"quantitative","scale":{"domain":[-15,416],"range":[98.7,595.4],"nice":false,"zero":false},
        "axis":{"orient":"bottom","offset":-146.05,"values":[0,100,200,300,400],"format":"d","domain":false,"tickSize":7,"labelFontSize":14.5,"labelBaseline":"middle","labelPadding":21,"title":"Patients (increasing risk socre)","titleFontSize":14.5,"titleBaseline":"middle","titleY":62.2}},
   "y":{"field":"t","type":"quantitative","scale":{"domain":[-0.5,14.4],"range":[553.95,367.7],"nice":false,"zero":false},
        "axis":{"orient":"left","offset":-98.7,"values":[0,2,4,6,8,10,12,14],"format":"d","labelExpr":"datum.value == 12 ? '' : datum.label","domain":false,"tickSize":7,"labelFontSize":14.5,"labelAngle":270,"labelAlign":"center","labelBaseline":"middle","labelPadding":18,"title":"Survival time (years)","titleFontSize":14.5,"titleAngle":270,"titleBaseline":"middle","titleX":-59}},
   "color":{"field":"s","type":"nominal","scale":{"domain":["D","A"],"range":["#FF0000","#00FF00"]},
        "legend":{"orient":"none","legendX":105,"legendY":382,"title":null,"labelFontSize":16,"symbolSize":70,"symbolType":"circle","symbolStrokeWidth":0,"labelOffset":9,"rowPadding":4,"padding":0,"labelExpr":"datum.label == 'D' ? 'Dead' : 'Alive'"}}
  }},
 {"data":{"values":[{}]},"mark":{"type":"rule","strokeDash":[4,3],"color":"#000","strokeWidth":1},
  "encoding":{"x":{"datum":244.5},"y":{"datum":-0.5},"y2":{"datum":14.4}}},
 {"data":{"values":[{}]},"mark":{"type":"rect","filled":false,"stroke":"#222","strokeWidth":1},
  "encoding":{"x":{"datum":-15},"x2":{"datum":416},"y":{"datum":-0.5},"y2":{"datum":14.4}}}
]},
{"layer":[
 {"data":{"name":"km"},"mark":{"type":"area","interpolate":"step-after","opacity":1},
  "encoding":{
   "x":{"field":"t","type":"quantitative","scale":{"domain":[-0.75,15.75],"range":[731.8,1264.7],"nice":false,"zero":false},
        "axis":{"orient":"bottom","offset":-280.5,"values":[0,1,2,3,4,5,6,7,8,9,10,11,12,13,14,15],"format":"d","domain":true,"domainWidth":1.1,"tickSize":4,"labelFontSize":16,"labelBaseline":"middle","labelPadding":11,"title":"Time(years)","titleFontSize":19.5,"titleBaseline":"middle","titleY":36.9}},
   "y":{"field":"lo","type":"quantitative","scale":{"domain":[-0.05,1.05],"range":[419.5,128.8],"nice":false,"zero":false},
        "axis":{"orient":"left","offset":-731.8,"values":[0,0.25,0.5,0.75,1],"format":".2f","domain":true,"domainWidth":1.1,"tickSize":4,"labelFontSize":16,"labelAlign":"right","labelBaseline":"middle","labelPadding":4,"title":"Survival probability","titleFontSize":19.5,"titleAngle":270,"titleBaseline":"middle","titleX":-85.2}},
   "y2":{"field":"hi"},
   "fill":{"field":"g","type":"nominal","scale":{"range":["#FFB2B2","#B2B2FF"]},
        "legend":{"orient":"none","legendX":896,"legendY":81.3,"direction":"horizontal","title":"Risk","titleOrient":"left","titleFontSize":14,"titlePadding":8,"titleBaseline":"middle","titleAnchor":"middle","labelFontSize":14,"labelOffset":7.6,"columnPadding":6,"symbolType":"square","symbolSize":484,"symbolStrokeWidth":0,"padding":0}}
  }},
 {"data":{"name":"km"},"mark":{"type":"line","interpolate":"step-after","strokeWidth":2},
  "encoding":{
   "x":{"field":"t","type":"quantitative"},
   "y":{"field":"s","type":"quantitative"},
   "stroke":{"field":"g","type":"nominal","scale":{"domain":["High risk","Low risk"],"range":["#FF0000","#0000FF"]},
        "legend":{"orient":"none","legendX":931.2,"legendY":81.3,"direction":"horizontal","title":null,"labelExpr":"''","labelFontSize":14,"labelOffset":7.6,"columnPadding":61.4,"symbolType":"M-1,0H1M0,-0.35V0.35","symbolSize":484,"symbolStrokeWidth":2,"symbolFillColor":"transparent","padding":0}}
  }},
 {"data":{"name":"cens"},"mark":{"type":"point","shape":"M-1,0H1M0,-1V1","size":44,"strokeWidth":1.4,"filled":false,"opacity":1},
  "encoding":{"x":{"field":"t","type":"quantitative"},"y":{"field":"s","type":"quantitative"},"stroke":{"field":"g","type":"nominal"}}},
 {"data":{"values":[{"label":"P<0.001"}]},"mark":{"type":"text","fontWeight":"bold","fontSize":15.5,"align":"left","baseline":"middle","dx":-1},
  "encoding":{"x":{"datum":0},"y":{"datum":0.088},"text":{"field":"label"}}}
]},
{"data":{"name":"tbl"},"mark":{"type":"text","fontSize":16,"align":"center","baseline":"middle"},
 "encoding":{
  "x":{"field":"t","type":"quantitative","scale":{"domain":[-0.75,15.75],"range":[731.8,1264.7],"nice":false,"zero":false},
       "axis":{"orient":"bottom","offset":-142.7,"values":[0,1,2,3,4,5,6,7,8,9,10,11,12,13,14,15],"format":"d","domain":true,"domainWidth":1.1,"tickSize":4,"labelFontSize":16,"labelBaseline":"middle","labelPadding":11.7,"title":"Time(years)","titleFontSize":19.5,"titleBaseline":"middle","titleY":35.1}},
  "y":{"field":"g","type":"nominal","scale":{"type":"point","domain":["High risk","Low risk"],"range":[511.1,557.3],"padding":0.6},
       "axis":{"orient":"left","offset":-731.8,"domain":true,"domainWidth":1.1,"tickSize":4,"labelFontSize":16,"labelAlign":"right","labelBaseline":"middle","labelPadding":4,"labelColor":{"condition":{"test":"datum.value === 'High risk'","value":"#FF0000"},"value":"#0000FF"},"title":"Risk","titleFontSize":19.5,"titleAngle":270,"titleBaseline":"middle","titleX":-84.4}},
  "text":{"field":"n","type":"quantitative"}
 }},
{"data":{"name":"letters"},"mark":{"type":"text","fontSize":29,"align":"left","baseline":"middle"},
 "encoding":{
  "x":{"field":"col","type":"nominal","scale":{"type":"point","domain":["L","R"],"range":[20,628.5],"padding":0},"axis":null},
  "y":{"field":"row","type":"nominal","scale":{"type":"point","domain":["T","M"],"range":[29.2,330.2],"padding":0},"axis":null},
  "text":{"field":"p"}
 }},
{"layer":[
 {"data":{"values":[{"part":"a","line":"1","text":"Fig. 4"}]},"mark":{"type":"text","fontSize":19,"fontWeight":"bold","align":"left","baseline":"middle","color":"#231f20"},
  "encoding":{
   "x":{"field":"part","type":"nominal","scale":{"type":"point","domain":["a","b"],"range":[12.3,68.5],"padding":0},"axis":null},
   "y":{"field":"line","type":"nominal","scale":{"type":"point","domain":["1","2"],"range":[644,670],"padding":0},"axis":null},
   "text":{"field":"text"}
  }},
 {"data":{"values":[{"part":"b","line":"1","text":"Relationship between the model and patient prognosis. The risk score and survival outcome of each case are shown ("},{"part":"a","line":"2","text":"different groups were plotted using the Kaplan–Meier method ("}]},
  "mark":{"type":"text","fontSize":19,"align":"left","baseline":"middle","color":"#231f20"},
  "encoding":{"x":{"field":"part","type":"nominal"},"y":{"field":"line","type":"nominal"},"text":{"field":"text"}}},
 {"data":{"values":[{"part":"b","line":"1","text":"A"}]},
  "mark":{"type":"text","fontSize":19,"fontWeight":"bold","align":"left","baseline":"middle","color":"#231f20","dx":989.5},
  "encoding":{"x":{"field":"part","type":"nominal"},"y":{"field":"line","type":"nominal"},"text":{"field":"text"}}},
 {"data":{"values":[{"part":"b","line":"1","text":","}]},
  "mark":{"type":"text","fontSize":19,"align":"left","baseline":"middle","color":"#231f20","dx":1003.2},
  "encoding":{"x":{"field":"part","type":"nominal"},"y":{"field":"line","type":"nominal"},"text":{"field":"text"}}},
 {"data":{"values":[{"part":"b","line":"1","text":"B"}]},
  "mark":{"type":"text","fontSize":19,"fontWeight":"bold","align":"left","baseline":"middle","color":"#231f20","dx":1013.8},
  "encoding":{"x":{"field":"part","type":"nominal"},"y":{"field":"line","type":"nominal"},"text":{"field":"text"}}},
 {"data":{"values":[{"part":"b","line":"1","text":"). Survival curves of"}]},
  "mark":{"type":"text","fontSize":19,"align":"left","baseline":"middle","color":"#231f20","dx":1027.5},
  "encoding":{"x":{"field":"part","type":"nominal"},"y":{"field":"line","type":"nominal"},"text":{"field":"text"}}},
 {"data":{"values":[{"part":"a","line":"2","text":"C"}]},
  "mark":{"type":"text","fontSize":19,"fontWeight":"bold","align":"left","baseline":"middle","color":"#231f20","dx":525.9},
  "encoding":{"x":{"field":"part","type":"nominal"},"y":{"field":"line","type":"nominal"},"text":{"field":"text"}}},
 {"data":{"values":[{"part":"a","line":"2","text":")"}]},
  "mark":{"type":"text","fontSize":19,"align":"left","baseline":"middle","color":"#231f20","dx":539.6},
  "encoding":{"x":{"field":"part","type":"nominal"},"y":{"field":"line","type":"nominal"},"text":{"field":"text"}}}
]}
],
"resolve":{"scale":{"x":"independent","y":"independent","color":"independent","fill":"independent","stroke":"independent"},"axis":{"x":"independent","y":"independent"},"legend":{"color":"independent","fill":"independent","stroke":"independent"}},
"config":{
 "font":"Liberation Sans",
 "axis":{"grid":false,"labelOverlap":false,"labelFlush":false,"labelColor":"#000","tickColor":"#000","domainColor":"#000","titleColor":"#000","titleFontWeight":"normal","labelFont":"Liberation Sans","titleFont":"Liberation Sans","tickWidth":1},
 "legend":{"labelFont":"Liberation Sans","titleFont":"Liberation Sans","labelColor":"#000","titleColor":"#000","titleFontWeight":"normal"},
 "text":{"font":"Liberation Sans","color":"#000"}
}
}
